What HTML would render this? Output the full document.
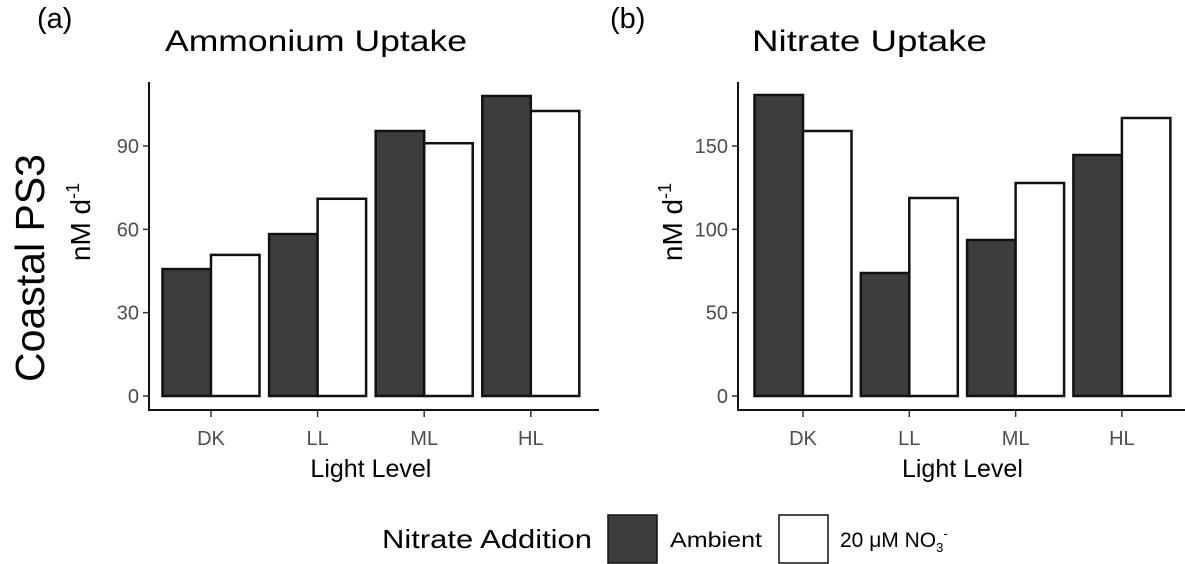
<!DOCTYPE html>
<html><head><meta charset="utf-8"><style>
body{margin:0;background:#fff;width:1185px;height:564px;overflow:hidden}
svg{display:block;font-family:"Liberation Sans",sans-serif}
</style></head><body>
<svg id="chart" width="1185" height="564" viewBox="0 0 1185 564">
<text x="37" y="28" font-size="29" font-family="Liberation Sans Narrow, Liberation Sans, sans-serif">(a)</text>
<text x="165" y="51" font-size="30" textLength="302" lengthAdjust="spacingAndGlyphs" font-family="Liberation Sans Narrow, Liberation Sans, sans-serif">Ammonium Uptake</text>
<text x="610" y="28" font-size="29" font-family="Liberation Sans Narrow, Liberation Sans, sans-serif">(b)</text>
<text x="752" y="51" font-size="30" textLength="235" lengthAdjust="spacingAndGlyphs" font-family="Liberation Sans Narrow, Liberation Sans, sans-serif">Nitrate Uptake</text>
<text transform="translate(44,268) rotate(-90)" text-anchor="middle" font-size="41">Coastal PS3</text>
<text transform="translate(90,222) rotate(-90)" text-anchor="middle" font-size="28">nM d<tspan dy="-11" font-size="18">-1</tspan></text>
<text transform="translate(682,222) rotate(-90)" text-anchor="middle" font-size="28">nM d<tspan dy="-11" font-size="18">-1</tspan></text>
<g id="pa"></g><g id="pb"></g>
<text x="382" y="548" font-size="26" textLength="210" lengthAdjust="spacingAndGlyphs">Nitrate Addition</text>
<rect x="608" y="515" width="49" height="48" fill="#3d3d3d" stroke="#111" stroke-width="1.5"/>
<text x="670" y="547" font-size="21" textLength="92" lengthAdjust="spacingAndGlyphs">Ambient</text>
<rect x="779" y="515" width="49" height="48" fill="#fff" stroke="#111" stroke-width="1.5"/>
<text x="840" y="547" font-size="21">20 μM NO<tspan dy="5" font-size="13">3</tspan><tspan dy="-14" font-size="13">-</tspan></text>
</svg>
<script>
const categories=["DK","LL","ML","HL"];
const ammoniumAmbient=[45.7,58.3,95.4,108];
const ammoniumNitrate=[50.8,71,91,102.6];
const ammoniumTicks=[0,30,60,90];
const nitrateAmbient=[180.6,73.8,93.6,144.6];
const nitrateNitrate=[159,118.8,127.8,166.8];
const nitrateTicks=[0,50,100,150];
const NS="http://www.w3.org/2000/svg";
function mk(p,t,a){const e=document.createElementNS(NS,t);for(const k in a)e.setAttribute(k,a[k]);p.appendChild(e);return e;}
function panel(g,axX,x0,step,pxPer,amb,nit,ticks,suffix){
  const y0=396;
  const yS=v=>y0-v*pxPer;
  const xS=i=>x0+i*step;
  const bw=48.5;
  mk(g,'line',{x1:axX,y1:82,x2:axX,y2:411,stroke:'#111','stroke-width':2});
  mk(g,'line',{x1:axX-1,y1:410,x2:axX+450,y2:410,stroke:'#111','stroke-width':2});
  ticks.forEach(t=>{
    const y=yS(t);
    const tl=mk(g,'line',{x1:axX-6,y1:y,x2:axX,y2:y,stroke:'#333','stroke-width':1.5});
    
    
    const tx=mk(g,'text',{x:axX-10,y:y+7,'text-anchor':'end','font-size':20,fill:'#4d4d4d'});
    tx.textContent=t;
    
    
  });
  categories.forEach((c,i)=>{
    const cx=xS(i);
    const b1=mk(g,'rect',{x:cx-bw,y:yS(amb[i]),width:bw,height:y0-yS(amb[i]),fill:'#3d3d3d',stroke:'#111','stroke-width':2.5});
    
    
    const b2=mk(g,'rect',{x:cx,y:yS(nit[i]),width:bw,height:y0-yS(nit[i]),fill:'#fff',stroke:'#111','stroke-width':2.5});
    
    
    const tk=mk(g,'line',{x1:cx,y1:410,x2:cx,y2:417,stroke:'#333','stroke-width':1.5});
    
    
    const tx=mk(g,'text',{x:cx,y:445,'text-anchor':'middle','font-size':20,fill:'#4d4d4d'});
    tx.textContent=c;
    
    
  });
  const xt=mk(g,'text',{x:x0+1.5*step,y:477,'text-anchor':'middle','font-size':25});
  xt.textContent='Light Level';
  
  
}
panel(document.getElementById('pa'),149,211,106.6,250/90,ammoniumAmbient,ammoniumNitrate,ammoniumTicks,'a');
panel(document.getElementById('pb'),738,803,106.3,250/150,nitrateAmbient,nitrateNitrate,nitrateTicks,'b');
</script>
</body></html>
